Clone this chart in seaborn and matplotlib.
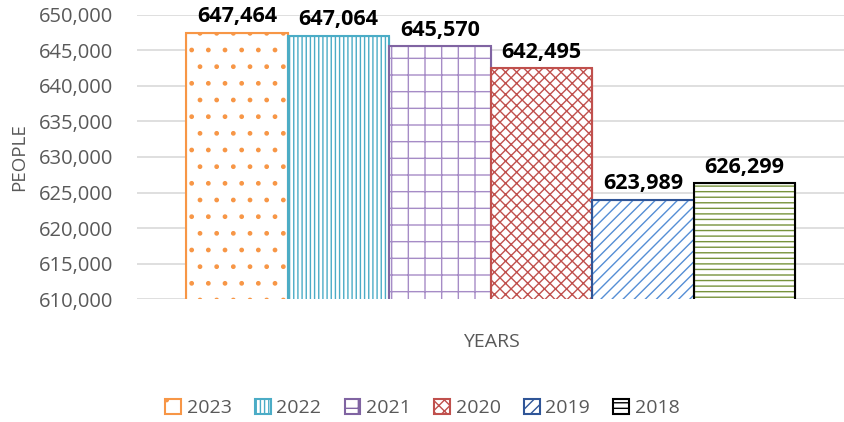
import pandas as pd
import matplotlib
matplotlib.use("Agg")
import matplotlib.pyplot as plt
import matplotlib.ticker as mticker
import seaborn as sns

# values
years = ["2023", "2022", "2021", "2020", "2019", "2018"]
people = [647464, 647064, 645570, 642495, 623989, 626299]

# styling per series (hatch colour / pattern / outline)
hatch_colors = ["#F79646", "#4BACC6", "#A68CC6", "#C0504D", "#558ED5", "#77933C"]
edge_colors = ["#F79646", "#4BACC6", "#8064A2", "#C0504D", "#2F5597", "#000000"]
hatches = [".", "||||", "+", "xxx", "///", "---"]


def main():
    sns.set_theme(style="white")
    plt.rcParams["font.family"] = ["Open Sans", "DejaVu Sans"]
    plt.rcParams["hatch.linewidth"] = 1.0

    data = pd.DataFrame({"group": [""] * len(years), "year": years, "people": people})

    fig = plt.figure(figsize=(8.45, 4.22), dpi=100)
    ax = fig.add_axes([0.162, 0.291, 0.838, 0.674])

    sns.barplot(data=data, x="group", y="people", hue="year", hue_order=years,
                palette=hatch_colors, width=0.86, gap=0, ax=ax, legend=False)

    for cont, hc, ec, h in zip(ax.containers, hatch_colors, edge_colors, hatches):
        for bar in cont:
            bar.set_facecolor("white")
            bar.set_edgecolor(hc)
            bar.set_hatch(h)
            bar.set_linewidth(0.8)
            # outline drawn on top in the series edge colour
            outline = plt.Rectangle(bar.get_xy(), bar.get_width(), bar.get_height(),
                                    fill=False, edgecolor=ec, linewidth=1.5, zorder=bar.get_zorder() + 0.1)
            ax.add_patch(outline)
        ax.bar_label(cont, labels=[f"{v:,.0f}" for v in cont.datavalues], padding=4,
                     fontsize=15.5, fontweight="bold", color="black")

    ax.set_ylim(610000, 650000)
    ax.set_xlim(-0.5, 0.5)
    ax.yaxis.set_major_locator(mticker.MultipleLocator(5000))
    ax.yaxis.set_major_formatter(mticker.StrMethodFormatter("{x:,.0f}"))
    ax.grid(axis="y", color="#D9D9D9", linewidth=1.2)
    ax.set_axisbelow(True)
    for s in ax.spines.values():
        s.set_visible(False)
    ax.tick_params(axis="y", labelsize=14.5, colors="#595959", length=0, pad=17)
    ax.set_xticks([])
    ax.set_xlabel("YEARS", fontsize=14, color="#595959", labelpad=24)
    ax.set_ylabel("PEOPLE", fontsize=13.5, color="#595959", labelpad=8)

    handles = []
    for hc, ec, h in zip(hatch_colors, edge_colors, hatches):
        handles.append(matplotlib.patches.Patch(facecolor="white", edgecolor=ec, hatch=h, linewidth=1.5))
    leg = fig.legend(handles=handles, labels=years, loc="lower center", ncol=6,
                     bbox_to_anchor=(0.5, -0.03), frameon=False, fontsize=14,
                     handlelength=0.8, handleheight=0.8, handletextpad=0.3, columnspacing=1.2)
    for t in leg.get_texts():
        t.set_color("#595959")

    fig.savefig("out.png", dpi=100)


if __name__ == "__main__":
    main()
